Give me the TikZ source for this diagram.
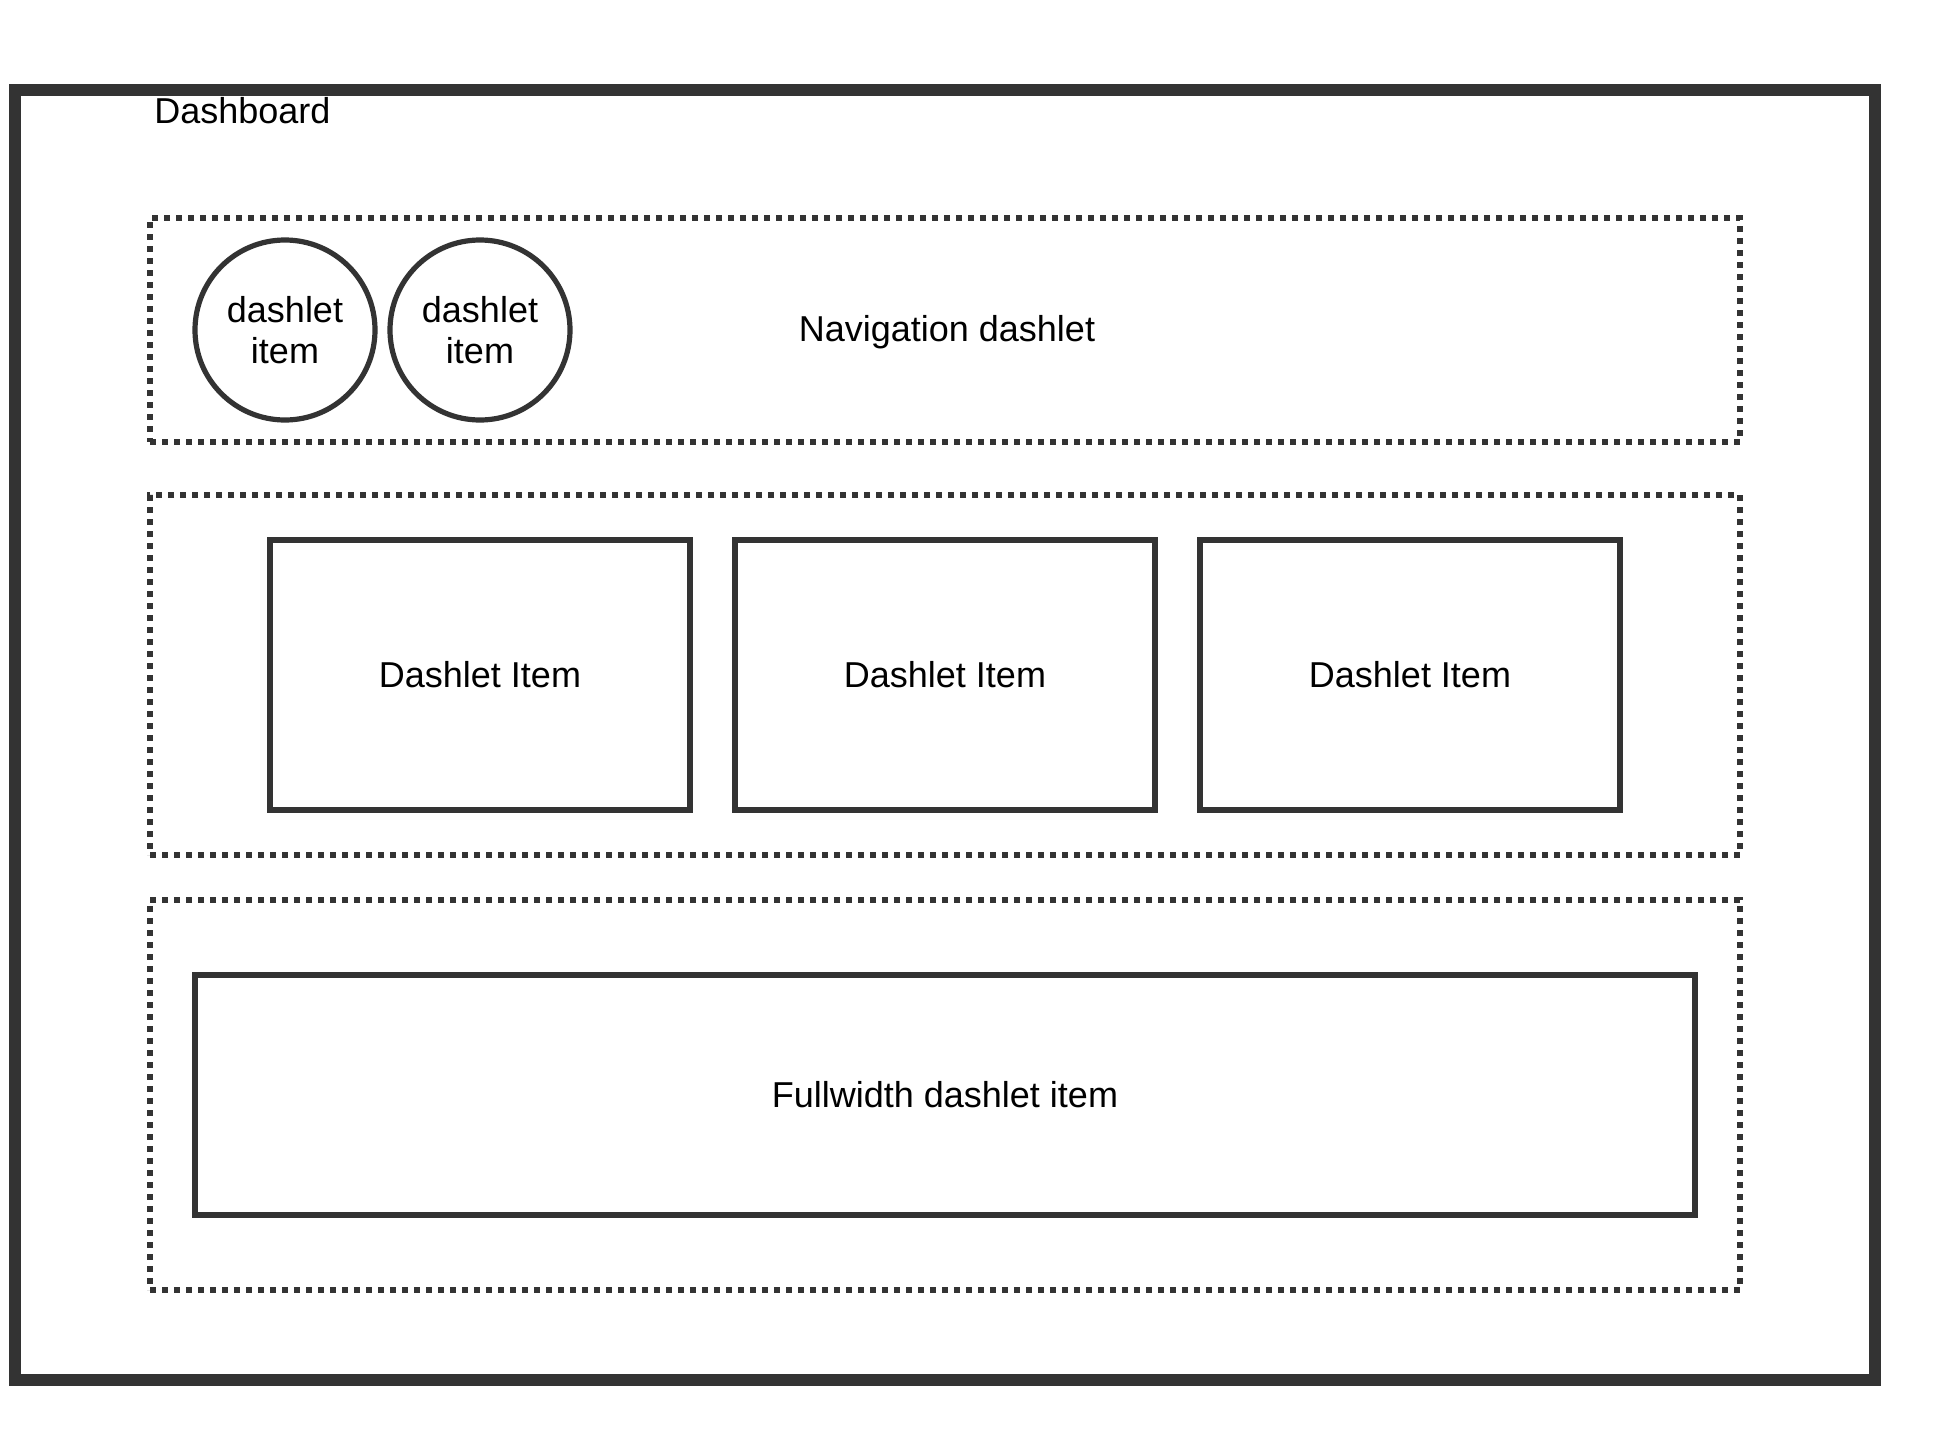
\documentclass[tikz,border=0pt]{standalone}
\usepackage{fontspec}
\setmainfont{Liberation Sans}
\definecolor{ink}{HTML}{333333}
\begin{document}
\begin{tikzpicture}[x=0.5pt,y=-0.5pt,
  every node/.style={font=\fontsize{18}{20.5}\selectfont, text=black},
  frame/.style={draw=ink, line width=6pt, rectangle, inner sep=0pt},
  zone/.style={draw=ink, line width=3pt, dash pattern=on 3pt off 3pt, rectangle, inner sep=0pt},
  itembox/.style={draw=ink, line width=3pt, rectangle, inner sep=0pt, minimum width=210pt, minimum height=135pt},
  itemcircle/.style={draw=ink, line width=2.6pt, circle, inner sep=0pt, minimum size=90pt, align=center},
  plain/.style={inner sep=0pt}]
\useasboundingbox (0,0) rectangle (1935,1440);
\node[frame, minimum width=930pt, minimum height=645pt] (outer) at (945,735) {};
\node[plain, anchor=base west] (title) at (154,123) {Dashboard};
\node[zone, minimum width=795pt, minimum height=112pt] (nav) at (945,330) {};
\node[plain] (navlabel) at (947,332) {Navigation dashlet};
\node[itemcircle] (c1) at (285,330) {dashlet\\item};
\node[itemcircle] (c2) at (480,330) {dashlet\\item};
\node[zone, minimum width=795pt, minimum height=180pt] (mid) at (945,675) {};
\node[itembox] (b1) at (480,675) {Dashlet Item};
\node[itembox] (b2) at (945,675) {Dashlet Item};
\node[itembox] (b3) at (1410,675) {Dashlet Item};
\node[zone, minimum width=795pt, minimum height=195pt] (bot) at (945,1095) {};
\node[itembox, minimum width=750pt, minimum height=120pt] (full) at (945,1095) {Fullwidth dashlet item};
\end{tikzpicture}
\end{document}
